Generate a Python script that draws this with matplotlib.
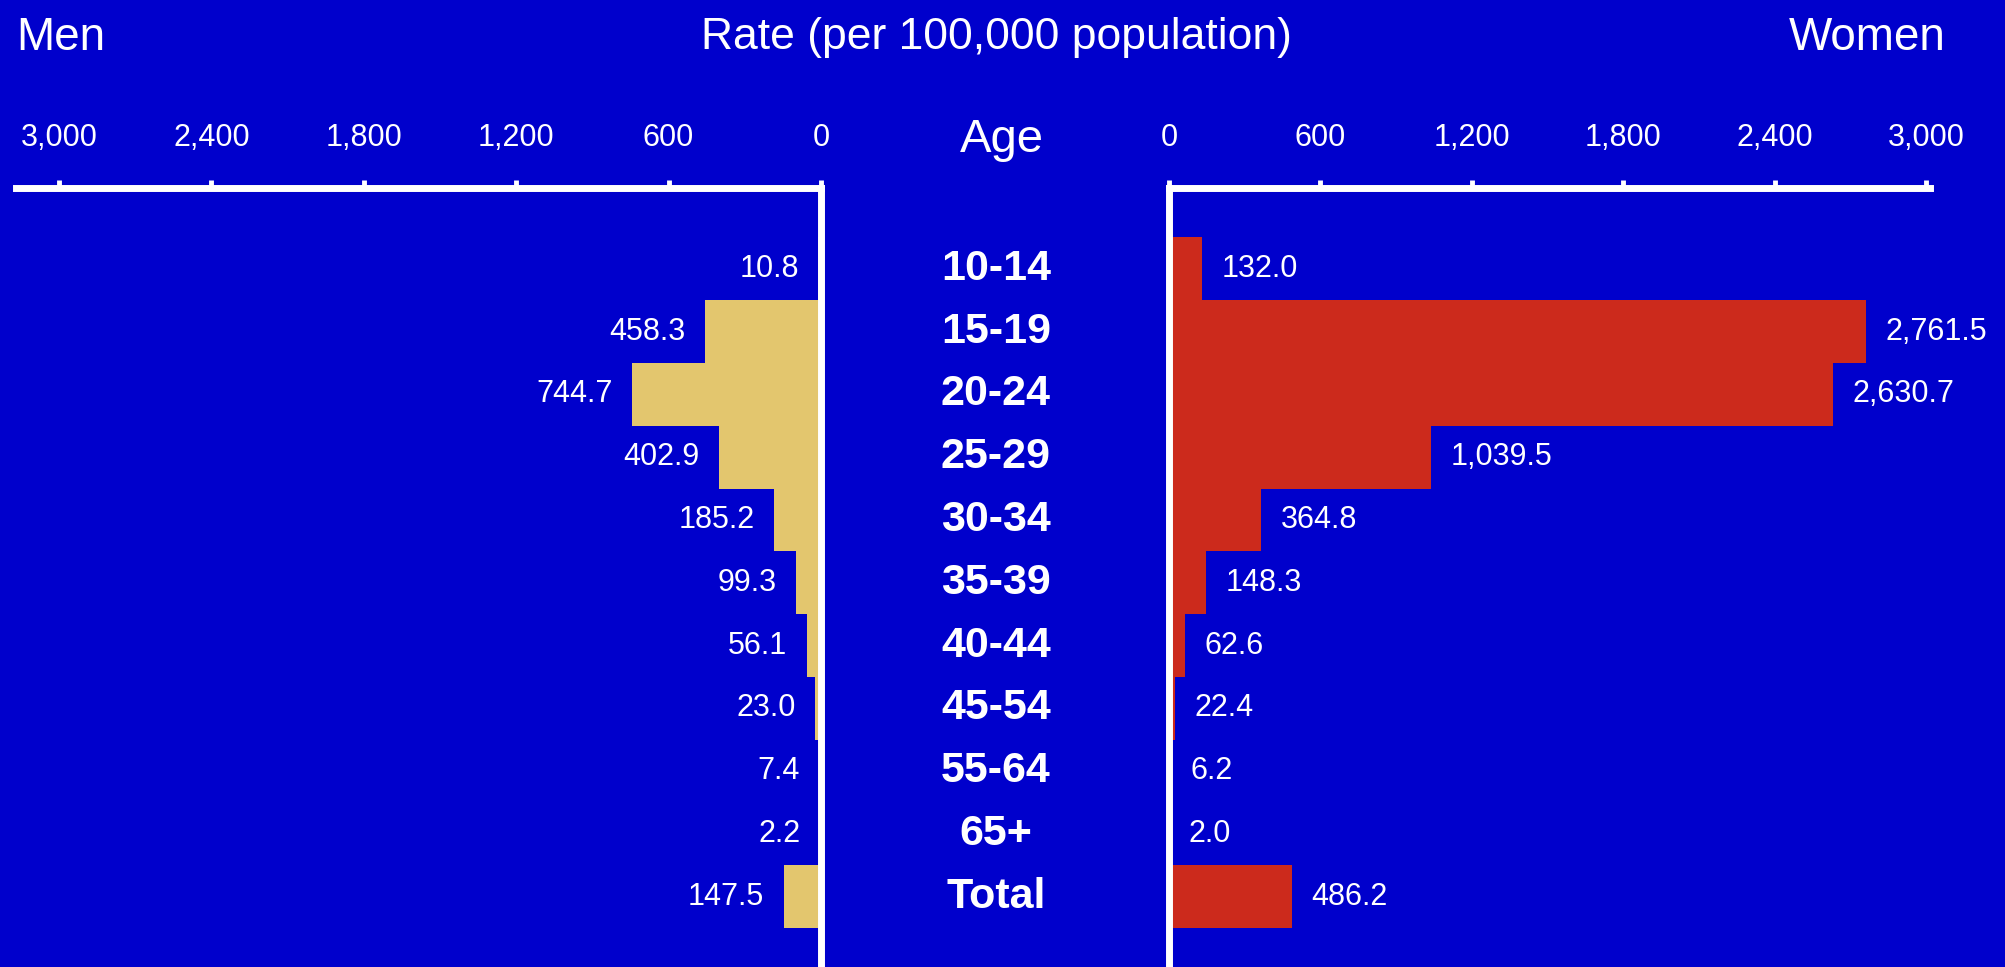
import numpy as np
import matplotlib
matplotlib.use("Agg")
import matplotlib.pyplot as plt
from matplotlib.ticker import FuncFormatter, FixedLocator
from matplotlib.transforms import blended_transform_factory

# Rates per 100,000 population by age group
ages = ["10-14", "15-19", "20-24", "25-29", "30-34", "35-39",
        "40-44", "45-54", "55-64", "65+", "Total"]
men = [10.8, 458.3, 744.7, 402.9, 185.2, 99.3, 56.1, 23.0, 7.4, 2.2, 147.5]
women = [132.0, 2761.5, 2630.7, 1039.5, 364.8, 148.3, 62.6, 22.4, 6.2, 2.0, 486.2]
ticks = [0, 600, 1200, 1800, 2400, 3000]

BG = "#0000CC"
MEN_COLOR = "#E3C66E"
WOMEN_COLOR = "#CC2A1C"
W, H = 2005, 967

plt.rcParams["font.family"] = ["Liberation Sans", "DejaVu Sans"]

fig = plt.figure(figsize=(W / 100, H / 100), dpi=100, facecolor=BG)

top_px = 188
ax_m = fig.add_axes([16 / W, 0, (821 - 16) / W, (H - top_px) / H])
ax_w = fig.add_axes([1169 / W, 0, (1930 - 1169) / W, (H - top_px) / H])

y = np.arange(len(ages))
ylim = (11.118, -1.287)

ax_m.barh(y, men, height=1.0, color=MEN_COLOR, zorder=2)
ax_w.barh(y, women, height=1.0, color=WOMEN_COLOR, zorder=2)

ax_m.set_xlim(3169, 0)
ax_w.set_xlim(0, 3016)

fmt = FuncFormatter(lambda v, p: f"{int(v):,}")
for ax in (ax_m, ax_w):
    ax.set_facecolor(BG)
    ax.set_ylim(*ylim)
    ax.set_yticks([])
    ax.xaxis.set_major_locator(FixedLocator(ticks))
    ax.xaxis.set_major_formatter(fmt)
    ax.xaxis.tick_top()
    ax.tick_params(axis="x", direction="out", length=6, width=3.5,
                   color="white", labelcolor="white", labelsize=22, pad=19)
    for s in ax.spines.values():
        s.set_visible(False)
    ax.spines["top"].set_visible(True)
    ax.spines["top"].set_color("white")
    ax.spines["top"].set_linewidth(5)

ax_m.spines["right"].set_visible(True)
ax_m.spines["right"].set_color("white")
ax_m.spines["right"].set_linewidth(5)
ax_w.spines["left"].set_visible(True)
ax_w.spines["left"].set_color("white")
ax_w.spines["left"].set_linewidth(5)

# value labels beside each bar
for yi, v in zip(y, men):
    ax_m.annotate(f"{v:,.1f}", (v, yi), xytext=(-14, 0), textcoords="offset points",
                  ha="right", va="center", color="white", fontsize=22)
for yi, v in zip(y, women):
    ax_w.annotate(f"{v:,.1f}", (v, yi), xytext=(14, 0), textcoords="offset points",
                  ha="left", va="center", color="white", fontsize=22)

# age group labels between the two panels
tr = blended_transform_factory(fig.transFigure, ax_m.transData)
for yi, a in zip(y, ages):
    fig.text(996 / W, yi, a, transform=tr, ha="center", va="center",
             color="white", fontsize=31, fontweight="bold")

fig.text(1002 / W, 1 - 140 / H, "Age", ha="center", va="center",
         color="white", fontsize=34)
fig.text(16 / W, 1 - 38 / H, "Men", ha="left", va="center",
         color="white", fontsize=33)
fig.text(996 / W, 1 - 38 / H, "Rate (per 100,000 population)", ha="center",
         va="center", color="white", fontsize=32)
fig.text(1946 / W, 1 - 38 / H, "Women", ha="right", va="center",
         color="white", fontsize=33)

fig.savefig("out.png", dpi=100, facecolor=BG)
